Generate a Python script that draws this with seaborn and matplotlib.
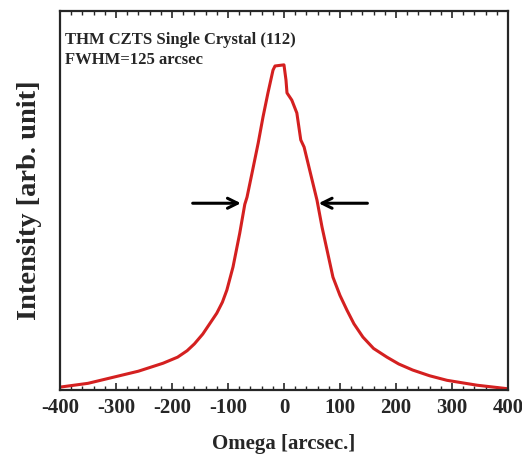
import pandas as pd
import matplotlib.pyplot as plt
import seaborn as sns
from matplotlib.ticker import MultipleLocator

sns.set_style("ticks")
plt.rcParams["font.family"] = ["Liberation Serif", "DejaVu Serif"]
plt.rcParams["font.weight"] = "bold"
plt.rcParams["axes.unicode_minus"] = False

omega = [-400, -350, -305, -260, -216, -190, -173, -160, -145, -135, -120, -110,
         -102, -91, -79, -70, -66, -57, -46, -37.5, -28.6, -19.6, -16, 0, 3.6,
         5.4, 14, 23, 30, 36, 46, 59, 68, 87.5, 100, 112.5, 125, 141, 160, 184,
         205, 230, 260, 291, 345, 398]
intensity = [0.008, 0.018, 0.034, 0.050, 0.071, 0.087, 0.104, 0.122, 0.148, 0.170,
             0.203, 0.232, 0.264, 0.325, 0.414, 0.490, 0.509, 0.573, 0.652, 0.720,
             0.784, 0.844, 0.855, 0.858, 0.818, 0.784, 0.765, 0.731, 0.660, 0.641,
             0.580, 0.501, 0.430, 0.298, 0.250, 0.211, 0.175, 0.140, 0.110, 0.087,
             0.069, 0.053, 0.038, 0.026, 0.013, 0.004]
df = pd.DataFrame({"omega": omega, "intensity": intensity})

half_max = 0.493
left_arrow = (-168, -72)
right_arrow = (154, 57)

fig = plt.figure(figsize=(5.22, 4.59), dpi=100)
ax = fig.add_axes([0.115, 0.150, 0.858, 0.826])

sns.lineplot(data=df, x="omega", y="intensity", color="#d42020", lw=2.2, ax=ax,
             sort=False)

ax.annotate("", xy=(left_arrow[1], half_max), xytext=(left_arrow[0], half_max),
            arrowprops=dict(arrowstyle="->", color="black", lw=2.2, mutation_scale=18))
ax.annotate("", xy=(right_arrow[1], half_max), xytext=(right_arrow[0], half_max),
            arrowprops=dict(arrowstyle="->", color="black", lw=2.2, mutation_scale=18))

ax.text(0.012, 0.945, "THM CZTS Single Crystal (112)\nFWHM=125 arcsec",
        transform=ax.transAxes, ha="left", va="top", fontsize=12,
        fontweight="bold", linespacing=1.35)

ax.set_xlim(-400, 400)
ax.set_ylim(0, 1.0)
ax.xaxis.set_major_locator(MultipleLocator(100))
ax.xaxis.set_minor_locator(MultipleLocator(20))
ax.tick_params(axis="x", which="both", direction="in", top=True, labelsize=15, pad=6)
ax.tick_params(axis="x", which="major", length=5, width=1.2)
ax.tick_params(axis="x", which="minor", length=3, width=1)
ax.set_yticks([])
for s in ax.spines.values():
    s.set_linewidth(1.6)
    s.set_visible(True)

ax.set_xlabel("Omega [arcsec.]", fontsize=15, fontweight="bold", labelpad=11)
ax.set_ylabel("Intensity [arb. unit]", fontsize=20.5, fontweight="bold", labelpad=13)

plt.savefig("out.png", dpi=100)
plt.close()
